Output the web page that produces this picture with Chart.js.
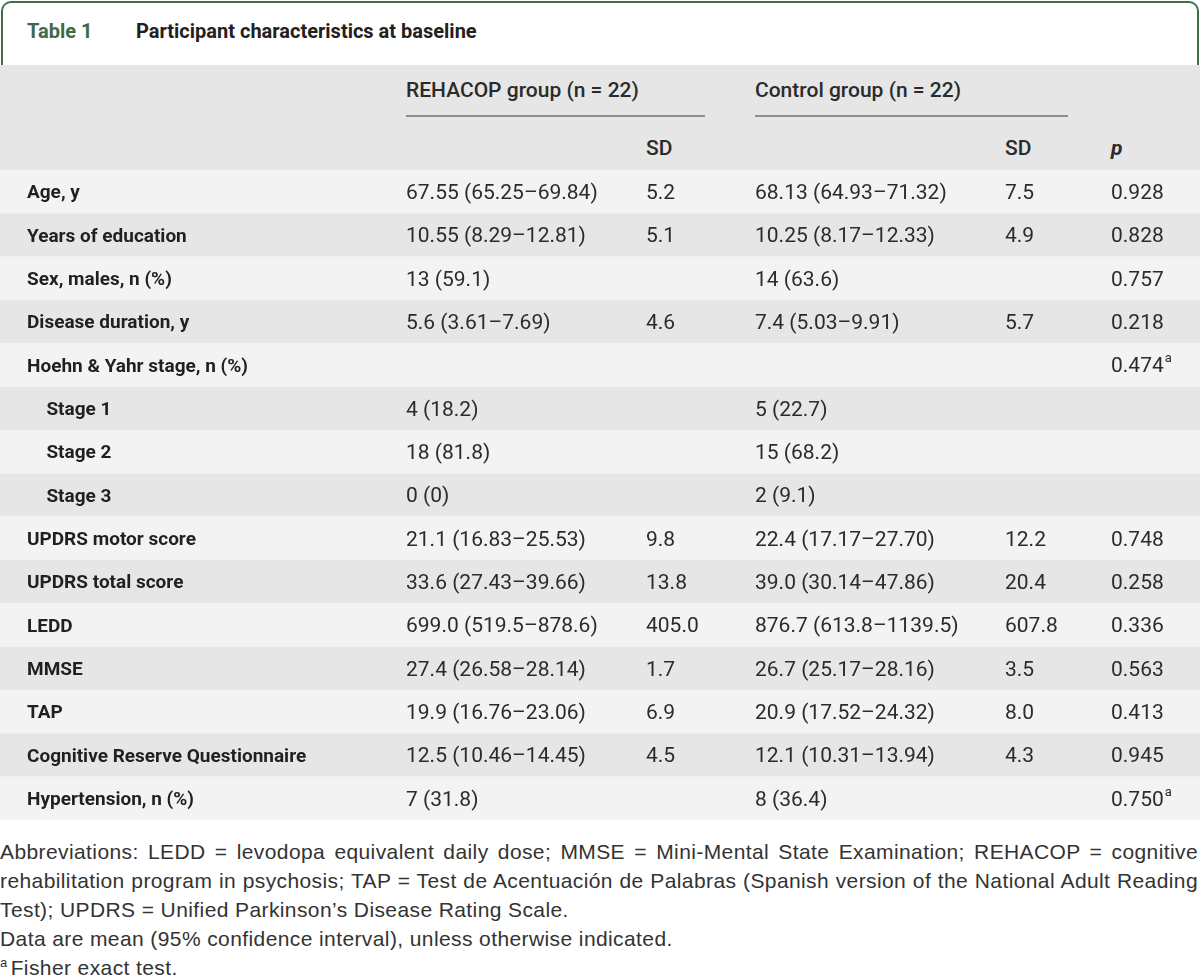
<!DOCTYPE html>
<html>
<head>
<meta charset="utf-8">
<script src="https://cdn.jsdelivr.net/npm/chart.js@4.4.1/dist/chart.umd.min.js"></script>
<style>
    body { margin: 0; background: #fff; font-family: Roboto, "Liberation Sans", Arial, sans-serif; color: #231f20; }
    #page { position: relative; width: 1200px; height: 977px; overflow: hidden; }
    #titlebox { position: absolute; left: 1px; top: 1px; width: 1194px; height: 62px; border: 2px solid #3f6e48; border-bottom: none; border-radius: 10px 10px 0 0; }
    .t { position: absolute; white-space: nowrap; line-height: 22px; }
    #head { position: absolute; left: 0; top: 65px; width: 1200px; height: 105px; background: #e6e6e6; color: #2b2b2b; }
    .h { font-size: 21px; font-weight: 500; }
    .rule { position: absolute; height: 2px; background: #8e8e8e; }
    #chartWrap { position: absolute; left: 0; top: 170px; width: 1200px; height: 650px; }
    #notes { position: absolute; left: 0; top: 837px; width: 1198px; font-family: "Liberation Sans", Arial, sans-serif;
             font-size: 21px; letter-spacing: 0.4px; line-height: 29px; color: #333; }
    #notes div.j { text-align: justify; text-align-last: justify; white-space: nowrap; }
    #notes sup { font-size: 13px; vertical-align: 8px; line-height: 0; margin-right: 3px; }
</style>
</head>
<body>
<div id="page">
    <div id="titlebox"></div>
    <div class="t" style="left:27px; top:20px; font-size:20px; font-weight:bold; color:#3d6b46;">Table 1</div>
    <div class="t" style="left:136px; top:20px; font-size:20px; font-weight:bold;">Participant characteristics at baseline</div>

    <div id="head">
        <div class="t h" style="left:406px; top:14px;">REHACOP group (n = 22)</div>
        <div class="rule" style="left:406px; top:50px; width:299px;"></div>
        <div class="t h" style="left:755px; top:14px;">Control group (n = 22)</div>
        <div class="rule" style="left:755px; top:50px; width:313px;"></div>
        <div class="t h" style="left:646px; top:72px;">SD</div>
        <div class="t h" style="left:1005px; top:72px;">SD</div>
        <div class="t h" style="left:1111px; top:72px; font-weight:bold; font-style:italic;">p</div>
    </div>

    <div id="chartWrap"><canvas id="tableChart" width="1200" height="650"></canvas></div>

    <div id="notes">
        <div class="j">Abbreviations: LEDD = levodopa equivalent daily dose; MMSE = Mini-Mental State Examination; REHACOP = cognitive</div>
        <div class="j">rehabilitation program in psychosis; TAP = Test de Acentuación de Palabras (Spanish version of the National Adult Reading</div>
        <div>Test); UPDRS = Unified Parkinson’s Disease Rating Scale.</div>
        <div>Data are mean (95% confidence interval), unless otherwise indicated.</div>
        <div><sup>a</sup>Fisher exact test.</div>
    </div>
</div>

<script>
// table rows
const rowLabels = ['Age, y', 'Years of education', 'Sex, males, n (%)', 'Disease duration, y',
    'Hoehn & Yahr stage, n (%)', 'Stage 1', 'Stage 2', 'Stage 3', 'UPDRS motor score',
    'UPDRS total score', 'LEDD', 'MMSE', 'TAP', 'Cognitive Reserve Questionnaire', 'Hypertension, n (%)'];
const subRows = ['Stage 1', 'Stage 2', 'Stage 3'];

const rehacopMean = ['67.55 (65.25–69.84)', '10.55 (8.29–12.81)', '13 (59.1)', '5.6 (3.61–7.69)', '',
    '4 (18.2)', '18 (81.8)', '0 (0)', '21.1 (16.83–25.53)', '33.6 (27.43–39.66)', '699.0 (519.5–878.6)',
    '27.4 (26.58–28.14)', '19.9 (16.76–23.06)', '12.5 (10.46–14.45)', '7 (31.8)'];
const rehacopSD = ['5.2', '5.1', '', '4.6', '', '', '', '', '9.8', '13.8', '405.0', '1.7', '6.9', '4.5', ''];

const controlMean = ['68.13 (64.93–71.32)', '10.25 (8.17–12.33)', '14 (63.6)', '7.4 (5.03–9.91)', '',
    '5 (22.7)', '15 (68.2)', '2 (9.1)', '22.4 (17.17–27.70)', '39.0 (30.14–47.86)', '876.7 (613.8–1139.5)',
    '26.7 (25.17–28.16)', '20.9 (17.52–24.32)', '12.1 (10.31–13.94)', '8 (36.4)'];
const controlSD = ['7.5', '4.9', '', '5.7', '', '', '', '', '12.2', '20.4', '607.8', '3.5', '8.0', '4.3', ''];

const pValues = ['0.928', '0.828', '0.757', '0.218', '0.474', '', '', '', '0.748', '0.258', '0.336',
    '0.563', '0.413', '0.945', '0.750'];
const pNotes = ['', '', '', '', 'a', '', '', '', '', '', '', '', '', '', 'a'];

const FONT = 'Roboto, "Liberation Sans", Arial, sans-serif';

// row bands + cell text, placed on the category scale
const tableCells = {
    id: 'tableCells',
    beforeDraw(chart) {
        const { ctx, scales: { y } } = chart;
        const band = y.height / rowLabels.length;
        ctx.save();
        rowLabels.forEach((_, i) => {
            const yc = y.getPixelForValue(i);
            ctx.fillStyle = i % 2 ? '#e6e6e6' : '#f3f3f3';
            ctx.fillRect(0, yc - band / 2, chart.width, band);
        });
        ctx.restore();
    },
    afterDraw(chart) {
        const { ctx, scales: { y } } = chart;
        const columns = [
            [406, rehacopMean], [646, rehacopSD], [755, controlMean], [1005, controlSD], [1111, pValues]
        ];
        ctx.save();
        ctx.fillStyle = '#2b2b2b';
        ctx.textBaseline = 'middle';
        ctx.textAlign = 'left';
        rowLabels.forEach((_, i) => {
            const yc = y.getPixelForValue(i) + 2;
            ctx.font = '21px ' + FONT;
            columns.forEach(([x, vals]) => {
                if (vals[i]) ctx.fillText(vals[i], x, yc);
            });
            if (pNotes[i]) {
                const w = ctx.measureText(pValues[i]).width;
                ctx.font = '13px ' + FONT;
                ctx.fillText(pNotes[i], 1111 + w + 1, yc - 8);
            }
        });
        ctx.restore();
    }
};

new Chart(document.getElementById('tableChart'), {
    type: 'bar',
    data: {
        labels: rowLabels,
        datasets: [{ label: 'rows', data: [] }]
    },
    options: {
        indexAxis: 'y',
        responsive: false,
        animation: false,
        layout: { padding: { left: 27, right: 0, top: 0, bottom: 0 } },
        plugins: { legend: { display: false }, tooltip: { enabled: false } },
        scales: {
            x: { display: false, min: 0, max: 1 },
            y: {
                grid: { display: false },
                border: { display: false },
                afterFit(scale) {
                    scale.paddingTop = 0;
                    scale.paddingBottom = 0;
                },
                ticks: {
                    crossAlign: 'far',
                    labelOffset: 2,
                    color: '#231f20',
                    font: { family: FONT, size: 19, weight: 'bold' },
                    callback: (v, i) => (subRows.includes(rowLabels[i]) ? '\u2003' : '') + rowLabels[i]
                }
            }
        }
    },
    plugins: [tableCells]
});
</script>
</body>
</html>
